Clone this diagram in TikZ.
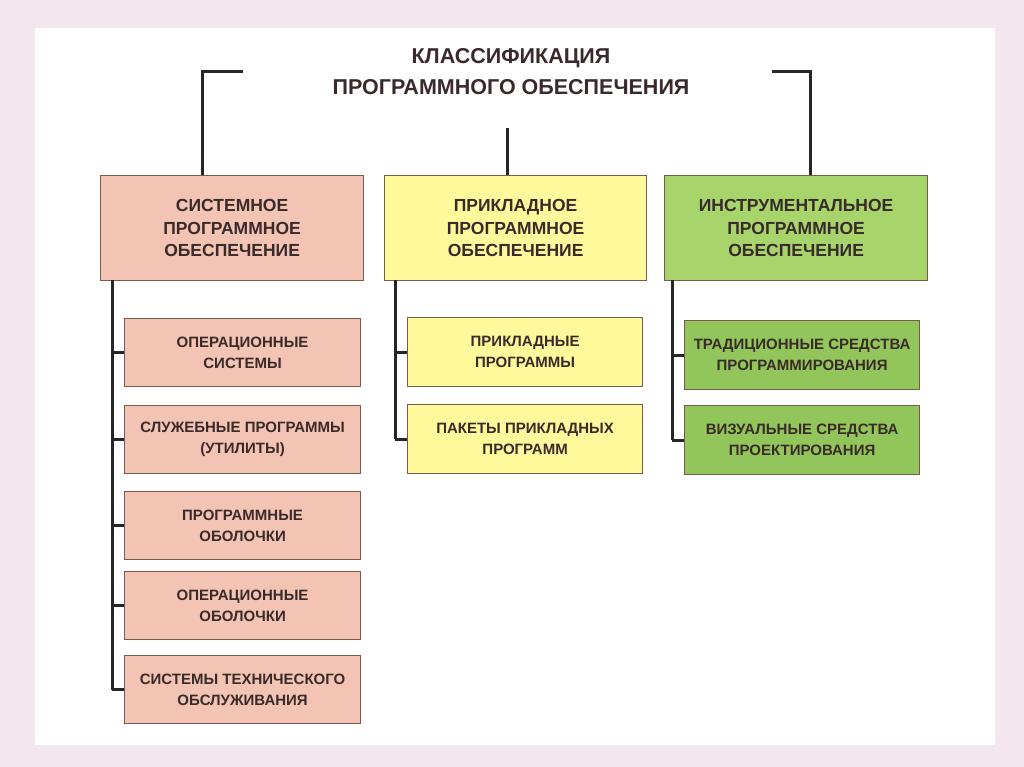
\documentclass[tikz,border=0pt]{standalone}
\usepackage{fontspec}
\setmainfont{Liberation Sans}
\begin{document}
\begin{tikzpicture}[x=1pt,y=-1pt,
  bx/.style={draw=brd,line width=1.2pt,inner sep=0pt,anchor=north west,align=center,text=txt,font=\bfseries\fontsize{17.5}{22.5}\selectfont},
  sub/.style={bx,font=\bfseries\fontsize{15}{21}\selectfont},
  ln/.style={line width=3pt,draw=black!85}]
\definecolor{brd}{HTML}{7A5A4A}
\definecolor{txt}{HTML}{3A2A2A}
\definecolor{pk}{HTML}{F3C4B4}
\definecolor{yl}{HTML}{FFF99C}
\definecolor{gr}{HTML}{A8D46C}
\definecolor{gr2}{HTML}{92C55A}
\fill[fill={rgb,255:red,244;green,230;blue,238}] (0,0) rectangle (1024,767);
\fill[white] (35,28) rectangle (995,745);
\node[text=txt,font=\bfseries\fontsize{21.5}{31}\selectfont,align=center] (title) at (511,72) {КЛАССИФИКАЦИЯ\\ПРОГРАММНОГО ОБЕСПЕЧЕНИЯ};
\node[bx,fill=pk,minimum width=263,minimum height=105] (s) at (100,175) {СИСТЕМНОЕ\\ПРОГРАММНОЕ\\ОБЕСПЕЧЕНИЕ};
\node[bx,fill=yl,minimum width=262,minimum height=105] (a) at (384,175) {ПРИКЛАДНОЕ\\ПРОГРАММНОЕ\\ОБЕСПЕЧЕНИЕ};
\node[bx,fill=gr,minimum width=263,minimum height=105] (i) at (664,175) {ИНСТРУМЕНТАЛЬНОЕ\\ПРОГРАММНОЕ\\ОБЕСПЕЧЕНИЕ};
\foreach \n/\y/\t in {s1/318/{ОПЕРАЦИОННЫЕ\\СИСТЕМЫ},s2/405/{СЛУЖЕБНЫЕ ПРОГРАММЫ\\(УТИЛИТЫ)},s3/491/{ПРОГРАММНЫЕ\\ОБОЛОЧКИ},s4/571/{ОПЕРАЦИОННЫЕ\\ОБОЛОЧКИ},s5/655/{СИСТЕМЫ ТЕХНИЧЕСКОГО\\ОБСЛУЖИВАНИЯ}}
  \node[sub,fill=pk,minimum width=236,minimum height=68] (\n) at (124,\y) {\t};
\foreach \n/\y/\t in {a1/317/{ПРИКЛАДНЫЕ\\ПРОГРАММЫ},a2/404/{ПАКЕТЫ ПРИКЛАДНЫХ\\ПРОГРАММ}}
  \node[sub,fill=yl,minimum width=235,minimum height=69] (\n) at (407,\y) {\t};
\foreach \n/\y/\t in {i1/320/{ТРАДИЦИОННЫЕ СРЕДСТВА\\ПРОГРАММИРОВАНИЯ},i2/405/{ВИЗУАЛЬНЫЕ СРЕДСТВА\\ПРОЕКТИРОВАНИЯ}}
  \node[sub,fill=gr2,minimum width=235,minimum height=69] (\n) at (684,\y) {\t};
\coordinate (tl) at (243,72); \coordinate (tr) at (772,72); \coordinate (tm) at (507,128);
\draw[ln] (tl) -- (202,72) -- (202,175);
\draw[ln] (tr) -- (810,72) -- (810,175);
\draw[ln] (tm) -- (a.north -| tm);
\draw[ln] (112,280) -- (112,690);
\foreach \n in {s1,s2,s3,s4,s5} \draw[ln] (\n.west -| 112,0) -- (\n.west);
\draw[ln] (395,280) -- (395,439);
\foreach \n in {a1,a2} \draw[ln] (\n.west -| 395,0) -- (\n.west);
\draw[ln] (672,280) -- (672,440);
\foreach \n in {i1,i2} \draw[ln] (\n.west -| 672,0) -- (\n.west);
\end{tikzpicture}
\end{document}
